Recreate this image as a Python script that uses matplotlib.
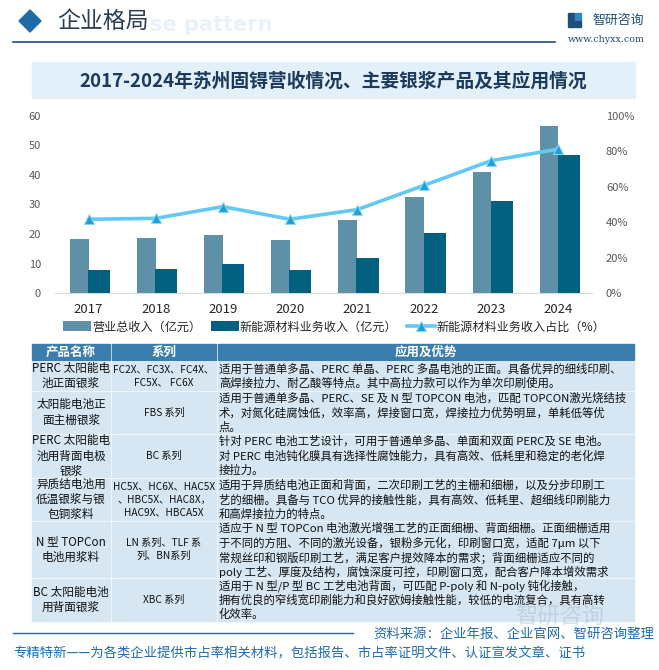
import matplotlib
matplotlib.use('Agg')
import matplotlib.pyplot as plt
from matplotlib.patches import Rectangle, Polygon
from matplotlib.ticker import FuncFormatter
import numpy as np

plt.rcParams['font.family'] = ['Noto Sans CJK SC', 'DejaVu Sans']

# data
years = ['2017', '2018', '2019', '2020', '2021', '2022', '2023', '2024']
total_rev = [18.3, 18.8, 19.7, 18.0, 24.8, 32.5, 41.0, 56.5]
new_energy_rev = [7.9, 8.2, 9.9, 7.9, 11.9, 20.4, 31.2, 46.7]
new_energy_share = [0.417, 0.422, 0.488, 0.417, 0.471, 0.608, 0.747, 0.812]

table_header = ['产品名称', '系列', '应用及优势']
product_names = ['PERC 太阳能电\n池正面银浆', '太阳能电池正\n面主栅银浆', 'PERC 太阳能电\n池用背面电极\n银浆',
                 '异质结电池用\n低温银浆与银\n包铜浆料', 'N 型 TOPCon\n电池用浆料', 'BC 太阳能电池\n用背面银浆']
product_series = ['FC2X、FC3X、FC4X、\nFC5X、 FC6X', 'FBS 系列', 'BC 系列',
                  'HC5X、HC6X、HAC5X\n、HBC5X、HAC8X，\nHAC9X、HBCA5X', 'LN 系列、TLF 系\n列、BN系列', 'XBC 系列']
product_use = [
    ['适用于普通单多晶、PERC 单晶、PERC 多晶电池的正面。具备优异的细线印刷、',
     '高焊接拉力、耐乙酸等特点。其中高拉力款可以作为单次印刷使用。'],
    ['适用于普通单多晶、PERC、SE 及 N 型 TOPCON 电池，匹配 TOPCON激光烧结技',
     '术，对氮化硅腐蚀低，效率高，焊接窗口宽，焊接拉力优势明显，单耗低等优',
     '点。'],
    ['针对 PERC 电池工艺设计，可用于普通单多晶、单面和双面 PERC及 SE 电池。',
     '对 PERC 电池钝化膜具有选择性腐蚀能力，具有高效、低耗里和稳定的老化焊',
     '接拉力。'],
    ['适用于异质结电池正面和背面，二次印刷工艺的主栅和细栅，以及分步印刷工',
     '艺的细栅。具备与 TCO 优异的接触性能，具有高效、低耗里、超细线印刷能力',
     '和高焊接拉力的特点。'],
    ['适应于 N 型 TOPCon 电池激光增强工艺的正面细栅、背面细栅。正面细栅适用',
     '于不同的方阻、不同的激光设备，银粉多元化，印刷窗口宽，适配 7μm 以下',
     '常规丝印和钢版印刷工艺，满足客户提效降本的需求；背面细栅适应不同的',
     'poly 工艺、厚度及结构，腐蚀深度可控，印刷窗口宽，配合客户降本增效需求'],
    ['适用于 N 型/P 型 BC 工艺电池背面，可匹配 P-poly 和 N-poly 钝化接触，',
     '拥有优良的窄线宽印刷能力和良好欧姆接触性能，较低的电流复合，具有高转',
     '化效率。'],
]

W, H = 659, 670
fig = plt.figure(figsize=(W / 100, H / 100), dpi=100)
fig.patch.set_facecolor('white')

# full-figure overlay in pixel coords (y down)
bg = fig.add_axes([0, 0, 1, 1], zorder=0)
bg.set_xlim(0, W)
bg.set_ylim(H, 0)
bg.axis('off')

# header
bg.text(150, 25, 'se pattern', ha='left', va='center', fontsize=15,
        fontweight='bold', color='#EAF2F9', family='DejaVu Sans', zorder=0)
bg.add_patch(Polygon([[30, 10], [41, 21], [30, 32], [19, 21]], closed=True, color='#1F6BA5'))
bg.text(57, 21, '企业格局', ha='left', va='center', fontsize=16.5, color='#2B3F55', zorder=2)
bg.plot([13, 555], [41.7, 41.7], color='#1F4E79', lw=1.2)
bg.add_patch(Rectangle((568, 13), 6, 14, color='#1F4E79'))
bg.add_patch(Rectangle((575, 13), 6, 7, color='#2E86C8'))
bg.add_patch(Rectangle((575, 21), 6, 6, color='#1F4E79'))
bg.text(592, 20.5, '智研咨询', ha='left', va='center', fontsize=9.3, color='#1F4E79')
bg.text(606, 40, 'www.chyxx.com', ha='center', va='center', fontsize=6.8,
        color='#1F4E79', family='DejaVu Serif')

# title box
bg.add_patch(Rectangle((31.5, 61.7), 603, 36, color='#E3F0FA'))
bg.text(333, 81, '2017-2024年苏州固锝营收情况、主要银浆产品及其应用情况', ha='center', va='center',
        fontsize=13.5, fontweight='bold', color='#1B3A5C')

# chart
ax_l, ax_r, ax_t, ax_b = 55, 592, 115.7, 293.3
ax = fig.add_axes([ax_l / W, 1 - ax_b / H, (ax_r - ax_l) / W, (ax_b - ax_t) / H], zorder=2)
ax.patch.set_alpha(0)
x = np.arange(len(years))
b1 = ax.bar(x - 0.14, total_rev, width=0.28, color='#5E91A8', label='营业总收入（亿元）', zorder=2)
b2 = ax.bar(x + 0.155, new_energy_rev, width=0.33, color='#03607F', label='新能源材料业务收入（亿元）', zorder=3)
ax.set_xlim(-0.5, len(years) - 0.5)
ax.set_ylim(0, 60)
ax.set_yticks(range(0, 61, 10))
ax.set_xticks(x)
ax.set_xticklabels(years, fontsize=9.5, color='#262626', fontweight='medium')
ax.tick_params(axis='x', length=0, pad=7)
ax.tick_params(axis='y', length=0, labelsize=8, labelcolor='#595959', pad=10)
for s in ['top', 'right', 'left']:
    ax.spines[s].set_visible(False)
ax.spines['bottom'].set_color('#D9D9D9')

ax2 = ax.twinx()
ax2.set_zorder(3)
ln, = ax2.plot(x, new_energy_share, color='#62C9F3', lw=2.6, marker='^', markersize=7,
               markerfacecolor='#1E9FD8', markeredgecolor='#8AD6F6', markeredgewidth=0.8,
               label='新能源材料业务收入占比（%）')
ax2.set_ylim(0, 1)
ax2.set_yticks(np.arange(0, 1.01, 0.2))
ax2.yaxis.set_major_formatter(FuncFormatter(lambda v, p: '{:.0f}%'.format(v * 100)))
ax2.tick_params(axis='y', length=0, labelsize=8, labelcolor='#595959', pad=10)
for s in ['top', 'right', 'left', 'bottom']:
    ax2.spines[s].set_visible(False)

fig.legend(handles=[b1, b2, ln], loc='center', bbox_to_anchor=(334 / W, 1 - 327 / H), ncol=3,
           frameon=False, fontsize=8.7, handlelength=2.3, handleheight=0.9,
           columnspacing=0.8, handletextpad=0.1, labelcolor='#262626')

# table
col_x = [31, 111, 217, 635]
row_y = [344.3, 361, 391, 434, 478, 521, 578, 622]
gap = 1.2
for c in range(3):
    x0, x1 = col_x[c], col_x[c + 1]
    bg.add_patch(Rectangle((x0 + gap / 2, row_y[0]), x1 - x0 - gap, row_y[1] - row_y[0] - gap / 2,
                           color='#3B7DAD', zorder=1))
    bg.text((x0 + x1) / 2, (row_y[0] + row_y[1]) / 2, table_header[c], ha='center', va='center',
            fontsize=9, fontweight='bold', color='white', zorder=2)
for r in range(6):
    y0, y1 = row_y[r + 1], row_y[r + 2]
    for c in range(3):
        x0, x1 = col_x[c], col_x[c + 1]
        bg.add_patch(Rectangle((x0 + gap / 2, y0 + gap / 2), x1 - x0 - gap, y1 - y0 - gap,
                               color='#D6E6F2', zorder=1))
    ym = (y0 + y1) / 2
    bg.text((col_x[0] + col_x[1]) / 2, ym, product_names[r], ha='center', va='center',
            fontsize=8.4, color='#111111', linespacing=1.22, zorder=2)
    bg.text((col_x[1] + col_x[2]) / 2, ym, product_series[r], ha='center', va='center',
            fontsize=7.3, color='#111111', linespacing=1.4, zorder=2)
    for i, line in enumerate(product_use[r]):
        bg.text(col_x[2] + 2, y0 + 7.5 + i * 14.5, line, ha='left', va='center',
                fontsize=8.2, color='#111111', zorder=2)

# watermark in the table corner
bg.text(560, 617, '智研咨询', ha='center', va='center', fontsize=16, color='#9AA9B8',
        alpha=0.35, zorder=3)

# footer
bg.plot([13, 353], [633, 633], color='#1F6BA5', lw=1.0)
bg.text(373, 634, '资料来源：企业年报、企业官网、智研咨询整理', ha='left', va='center',
        fontsize=9.6, color='#1F6BB0')
bg.text(13, 653, '专精特新——为各类企业提供市占率相关材料，包括报告、市占率证明文件、认证宣发文章、证书',
        ha='left', va='center', fontsize=9.6, color='#1F6BB0')

fig.savefig('out.png', dpi=100)
